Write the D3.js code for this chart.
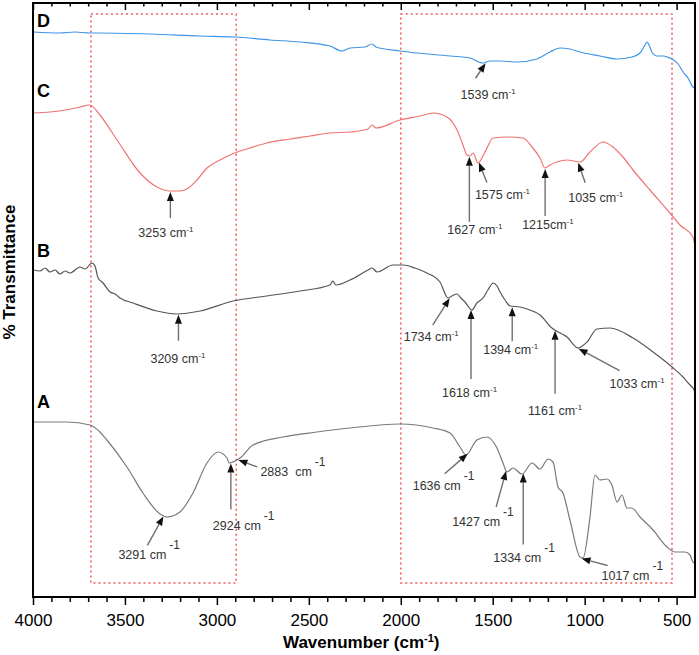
<!DOCTYPE html>
<html>
<head>
<meta charset="utf-8">
<title>FTIR spectra</title>
<script src="https://cdn.jsdelivr.net/npm/d3@7/dist/d3.min.js"></script>
<style>
    body { margin: 0; background: #fff; }
    text { font-family: Arial, "Liberation Sans", sans-serif; }
</style>
</head>
<body>
<script>
// wavenumber (cm-1), transmittance (a.u., spectra stacked with offsets)
var specA = [[4000,175],[3815,175],[3690,172],[3636,165],[3598,157],[3489,130],[3402,104],[3309,83],[3271,80],
    [3201,85],[3130,104],[3054,134],[2994,145],[2945,139],[2934,134],[2902,136],[2874,139],[2804,152],[2640,160],
    [2456,165],[2276,169],[2004,173],[1825,169],[1732,164],[1678,150],[1645,142],[1586,157],[1531,160],[1477,149],
    [1444,134],[1422,125],[1390,129],[1341,123],[1286,134],[1243,128],[1199,138],[1172,135],[1145,110],[1118,104],
    [1080,77],[1025,40],[1009,39],[971,80],[944,122],[917,117],[879,118],[852,112],[824,95],[797,102],[770,89],
    [743,89],[699,80],[628,67],[552,50],[509,45],[454,45],[427,42],[411,35],[400,34]];

var specB = [[4000,327],[3962,326],[3935,329],[3908,325],[3880,327],[3853,323],[3826,326],[3799,324],[3744,330],
    [3717,328],[3679,334],[3663,331],[3646,319],[3619,314],[3581,305],[3554,303],[3527,299],[3456,294],[3326,286],
    [3217,283],[3092,286],[2912,296],[2728,301],[2548,306],[2385,312],[2369,316],[2353,312],[2276,317],[2178,327],
    [2156,329],[2129,325],[2042,332],[1988,332],[1923,329],[1858,324],[1787,315],[1743,299],[1722,301],[1694,303],
    [1673,299],[1651,295],[1613,287],[1586,294],[1553,299],[1526,307],[1498,314],[1477,311],[1460,305],[1433,297],
    [1406,291],[1351,290],[1314,288],[1243,282],[1178,269],[1096,260],[1036,249],[987,255],[933,268],[862,269],
    [737,259],[628,245],[525,230],[465,220],[427,212],[411,209],[400,205]];

var specC = [[4000,484],[3908,485],[3826,487],[3744,490],[3690,492],[3636,482],[3543,457],[3418,424],[3326,410],
    [3255,406],[3201,406],[3163,408],[3108,417],[3054,429],[2983,437],[2929,442],[2820,449],[2728,454],[2602,458],
    [2494,461],[2385,464],[2276,465],[2178,468],[2156,472],[2135,469],[2004,477],[1895,481],[1825,484],[1749,480],
    [1694,467],[1662,452],[1640,442],[1624,441],[1607,444],[1580,434],[1542,445],[1498,459],[1422,460],[1335,459],
    [1286,450],[1243,439],[1216,429],[1189,432],[1151,435],[1096,437],[1025,435],[971,445],[900,455],[846,450],
    [792,440],[737,427],[645,407],[536,384],[482,372],[411,360],[400,350]];

var specD = [[4000,565],[3853,564],[3772,565],[3690,564],[3636,564],[3364,563],[3092,561],[2902,560],[2711,557],
    [2548,555],[2385,551],[2320,546],[2276,549],[2195,550],[2156,553],[2135,550],[2004,546],[1732,541],[1624,539],
    [1553,534],[1515,536],[1460,536],[1368,535],[1259,538],[1189,545],[1134,549],[1080,548],[1025,545],[917,541],
    [824,538],[743,540],[699,544],[672,552],[661,555],[650,552],[634,545],[607,541],[569,541],[552,540],[525,538],
    [492,533],[465,525],[438,519],[411,510],[400,509]];

var names = ["A", "B", "C", "D"];
var colors = ["#7a7a7a", "#555555", "#f07272", "#3f96e6"];

// marked bands
var bands = [[3685, 2895], [2000, 525]];

// labelled peaks, per spectrum
var peaksA = [3291, 2924, 2883, 1636, 1427, 1334, 1017];
var peaksB = [3209, 1734, 1618, 1394, 1161, 1033];
var peaksC = [3253, 1627, 1575, 1215, 1035];
var peaksD = [1539];
var labelsA = ["3291 cm", "2924 cm", "2883  cm", "1636 cm", "1427 cm", "1334 cm", "1017 cm"];
var labelsB = ["3209 cm", "1734 cm", "1618 cm", "1394 cm", "1161 cm", "1033 cm"];
var labelsC = ["3253 cm", "1627 cm", "1575 cm", "1215cm", "1035 cm"];
var labelsD = ["1539 cm"];

var xTicks = [4000, 3500, 3000, 2500, 2000, 1500, 1000, 500];

// layout: arrow tail offset and label offset from the arrow tip (px)
var layoutA = [[-16,29,-45,43],[0,46,-18,67],[19,7,22,16],[-23,20,-55,36],[-10,36,-54,55],[0,71,-30,88],[26,7,20,21]];
var layoutB = [[0,26,-28,48],[-17,27,-46,43],[0,69,-29,87],[0,34,-29,47],[0,63,-27,84],[41,22,31,39]];
var layoutC = [[0,26,-32,45],[0,65,-22,77],[8,20,-4,36],[0,47,-23,60],[7,20,-10,39]];
var layoutD = [[-10,15,-25,36]];
var nameY = [408, 257, 97, 27];

var W = 699, H = 655;
var margin = { top: 3, right: 4, bottom: 58, left: 33 };
var width = W - margin.left - margin.right;
var height = H - margin.top - margin.bottom;

var svg = d3.select("body").append("svg")
    .attr("width", W)
    .attr("height", H);

var g = svg.append("g")
    .attr("transform", "translate(" + margin.left + "," + margin.top + ")");

var x = d3.scaleLinear().domain([4000, 400]).range([0, width]);
var y = d3.scaleLinear().domain([0, 594]).range([height, 0]);

function valueAt(spec, w) {
    for (var i = 0; i < spec.length - 1; i++) {
        var a = spec[i], b = spec[i + 1];
        if (w <= a[0] && w >= b[0]) {
            var t = (a[0] - w) / (a[0] - b[0]);
            return a[1] + t * (b[1] - a[1]);
        }
    }
    return spec[spec.length - 1][1];
}

// dotted boxes
g.selectAll(".band")
    .data(bands)
    .enter()
    .append("rect")
    .attr("class", "band")
    .attr("x", d => x(d[0]))
    .attr("y", 11)
    .attr("width", d => x(d[1]) - x(d[0]))
    .attr("height", 569)
    .attr("fill", "none")
    .attr("stroke", "#f05a5a")
    .attr("stroke-width", 1.5)
    .attr("stroke-dasharray", "2,3");

// spectra
var specs = [specA, specB, specC, specD];
var line = d3.line()
    .x(d => x(d[0]))
    .y(d => y(d[1]))
    .curve(d3.curveMonotoneX);

g.selectAll(".spec")
    .data(specs)
    .enter()
    .append("path")
    .attr("class", "spec")
    .attr("d", line)
    .attr("fill", "none")
    .attr("stroke", (d, i) => colors[i])
    .attr("stroke-width", 1.2);

// spectrum names
svg.selectAll(".name")
    .data(names)
    .enter()
    .append("text")
    .attr("class", "name")
    .attr("x", 37)
    .attr("y", (d, i) => nameY[i])
    .style("font-size", "18px")
    .style("font-weight", "bold")
    .text(d => d);

// peak annotations
function annotate(spec, peaks, labels, layout, bigSup) {
    peaks.forEach(function (w, i) {
        var L = layout[i];
        var tx = x(w), ty = y(valueAt(spec, w)) + 1;
        var sx = tx + L[0], sy = ty + L[1];
        var dx = tx - sx, dy = ty - sy;
        var len = Math.sqrt(dx * dx + dy * dy);
        var ux = dx / len, uy = dy / len;
        var hl = 9, hw = 3.5;
        var bx = tx - ux * hl, by = ty - uy * hl;
        g.append("line")
            .attr("x1", sx).attr("y1", sy)
            .attr("x2", bx).attr("y2", by)
            .attr("stroke", "#707070")
            .attr("stroke-width", 1.4);
        g.append("path")
            .attr("d", "M" + tx + "," + ty +
                "L" + (bx - uy * hw) + "," + (by + ux * hw) +
                "L" + (bx + uy * hw) + "," + (by - ux * hw) + "Z")
            .attr("fill", "#111");
        var t = g.append("text")
            .attr("x", tx + L[2])
            .attr("y", ty + L[3])
            .attr("fill", "#333")
            .style("font-size", "12.5px")
            .style("white-space", "pre");
        t.append("tspan").text(labels[i]);
        if (bigSup) {
            t.append("tspan").attr("dx", 3).attr("dy", -10).style("font-size", "12px").text("-1");
        } else {
            t.append("tspan").attr("dy", -5).style("font-size", "8px").text("-1");
        }
    });
}
annotate(specA, peaksA, labelsA, layoutA, true);
annotate(specB, peaksB, labelsB, layoutB, false);
annotate(specC, peaksC, labelsC, layoutC, false);
annotate(specD, peaksD, labelsD, layoutD, false);

// axes
var minor = d3.range(3900, 400, -100).filter(v => v % 500 !== 0);

var axisB = g.append("g").attr("transform", "translate(0," + height + ")");
axisB.call(d3.axisBottom(x).tickValues(xTicks).tickSize(8).tickPadding(9).tickFormat(d3.format("d")));
axisB.append("g").call(d3.axisBottom(x).tickValues(minor).tickSize(5).tickFormat(""));
axisB.selectAll("text").style("font-size", "17px").attr("fill", "#000");

var axisT = g.append("g");
axisT.call(d3.axisTop(x).tickValues(xTicks).tickSize(-7).tickFormat(""));
axisT.append("g").call(d3.axisTop(x).tickValues(minor).tickSize(-3.5).tickFormat(""));

g.selectAll(".domain").remove();
g.selectAll(".tick line").attr("stroke", "#000").attr("stroke-width", 1.5);

g.append("rect")
    .attr("x", 0).attr("y", 0)
    .attr("width", width).attr("height", height)
    .attr("fill", "none")
    .attr("stroke", "#000")
    .attr("stroke-width", 2);

// axis titles
var xt = svg.append("text")
    .attr("x", margin.left + x(2215))
    .attr("y", 648)
    .attr("text-anchor", "middle")
    .style("font-size", "17px")
    .style("font-weight", "bold");
xt.append("tspan").text("Wavenumber (cm");
xt.append("tspan").attr("dy", -6).style("font-size", "11px").text("-1");
xt.append("tspan").attr("dy", 6).text(")");

svg.append("text")
    .attr("transform", "translate(15,272) rotate(-90)")
    .attr("text-anchor", "middle")
    .style("font-size", "17px")
    .style("font-weight", "bold")
    .text("% Transmittance");
</script>
</body>
</html>
